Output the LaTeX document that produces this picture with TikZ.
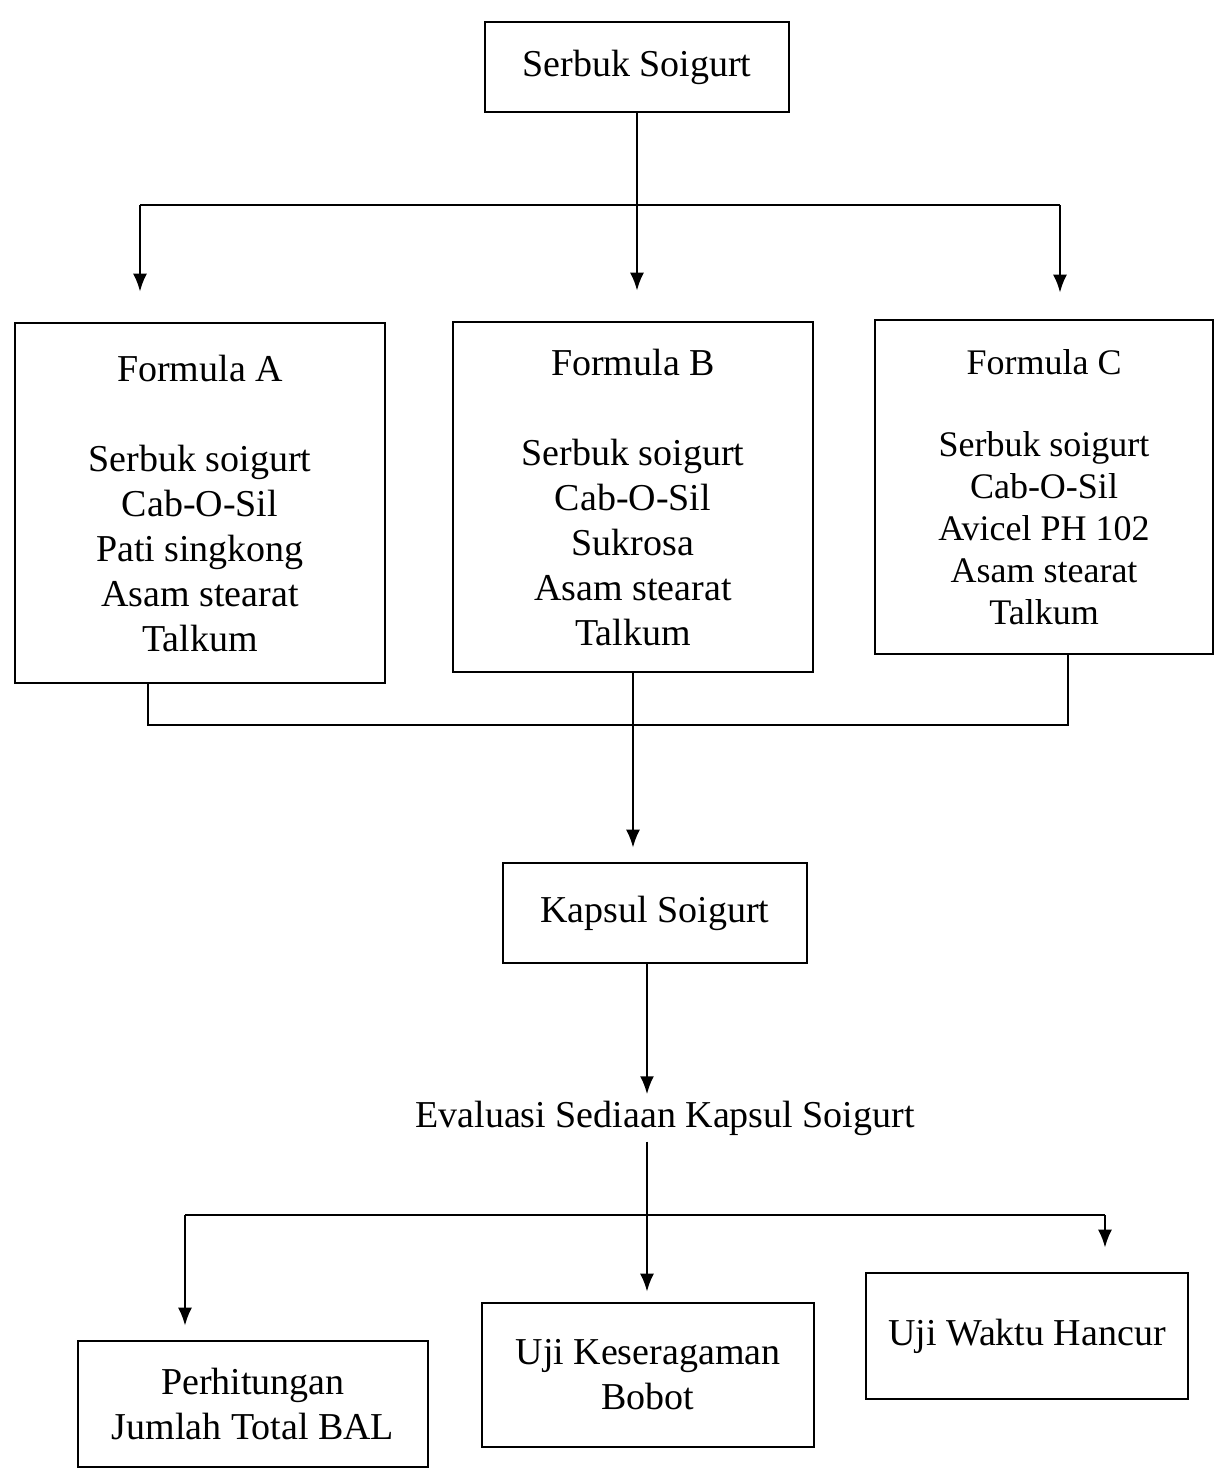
\documentclass[tikz,border=0pt]{standalone}
\usepackage{fontspec}
\setmainfont{Liberation Serif}
\usetikzlibrary{arrows.meta}

\begin{document}
\begin{tikzpicture}[x=0.5pt,y=-0.5pt, >={Latex[length=9pt,width=7pt]},
  font=\fontsize{19}{22.5}\selectfont,
  bx/.style={draw,line width=1.3pt,align=center,inner sep=0pt},
  ln/.style={line width=1.2pt},
  ar/.style={ln,->}]
  \useasboundingbox (0,0) rectangle (1215,1468);
  % bahan awal
  \node[bx,minimum width=152pt,minimum height=45pt] (serbuk) at (637,67) {Serbuk Soigurt};
  % formula
  \node[bx,minimum width=185pt,minimum height=180pt] (fA) at (200,503)
    {Formula A\\[22.5pt]Serbuk soigurt\\Cab-O-Sil\\Pati singkong\\Asam stearat\\Talkum};
  \node[bx,minimum width=180pt,minimum height=175pt] (fB) at (633,497)
    {Formula B\\[22.5pt]Serbuk soigurt\\Cab-O-Sil\\Sukrosa\\Asam stearat\\Talkum};
  \node[bx,minimum width=169pt,minimum height=167pt,font=\fontsize{18}{21}\selectfont] (fC) at (1044,487)
    {Formula C\\[20pt]Serbuk soigurt\\Cab-O-Sil\\Avicel PH 102\\Asam stearat\\Talkum};
  \node[bx,minimum width=152pt,minimum height=50pt] (kapsul) at (655,913) {Kapsul Soigurt};
  \node[inner sep=3pt] (eval) at (665,1118) {Evaluasi Sediaan Kapsul Soigurt};
  % uji
  \node[bx,minimum width=175pt,minimum height=63pt] (uji1) at (253,1404) {Perhitungan\\Jumlah Total BAL};
  \node[bx,minimum width=166pt,minimum height=72pt] (uji2) at (648,1375) {Uji Keseragaman\\Bobot};
  \node[bx,minimum width=161pt,minimum height=63pt] (uji3) at (1027,1336) {Uji Waktu Hancur};
  % cabang atas
  \coordinate (tl) at (140,205);
  \coordinate (tr) at (1060,205);
  \draw[ln] (tl) -- (tr);
  \draw[ar,shorten >=15pt] (serbuk.south) -- (serbuk.south |- fB.north);
  \draw[ar,shorten >=15pt] (tl) -- (tl |- fA.north);
  \draw[ar,shorten >=13pt] (tr) -- (tr |- fC.north);
  % gabung
  \coordinate (ml) at (148,725);
  \coordinate (mr) at (1068,725);
  \draw[ln] (fA.south -| ml) -- (ml) -- (mr) -- (fC.south -| mr);
  \draw[ar,shorten >=7pt] (fB.south) -- (fB.south |- kapsul.north);
  \draw[ar] (kapsul.south -| eval) ++(-18,0) coordinate (ks) (ks) -- (ks |- eval.north);
  % cabang bawah
  \coordinate (bl) at (185,1215);
  \coordinate (br) at (1105,1215);
  \draw[ln] (bl) -- (br);
  \draw[ar,shorten >=5pt] (eval.south -| ks) -- (ks |- uji2.north);
  \draw[ar,shorten >=7pt] (bl) -- (bl |- uji1.north);
  \draw[ar,shorten >=12pt] (br) -- (br |- uji3.north);
\end{tikzpicture}
\end{document}
